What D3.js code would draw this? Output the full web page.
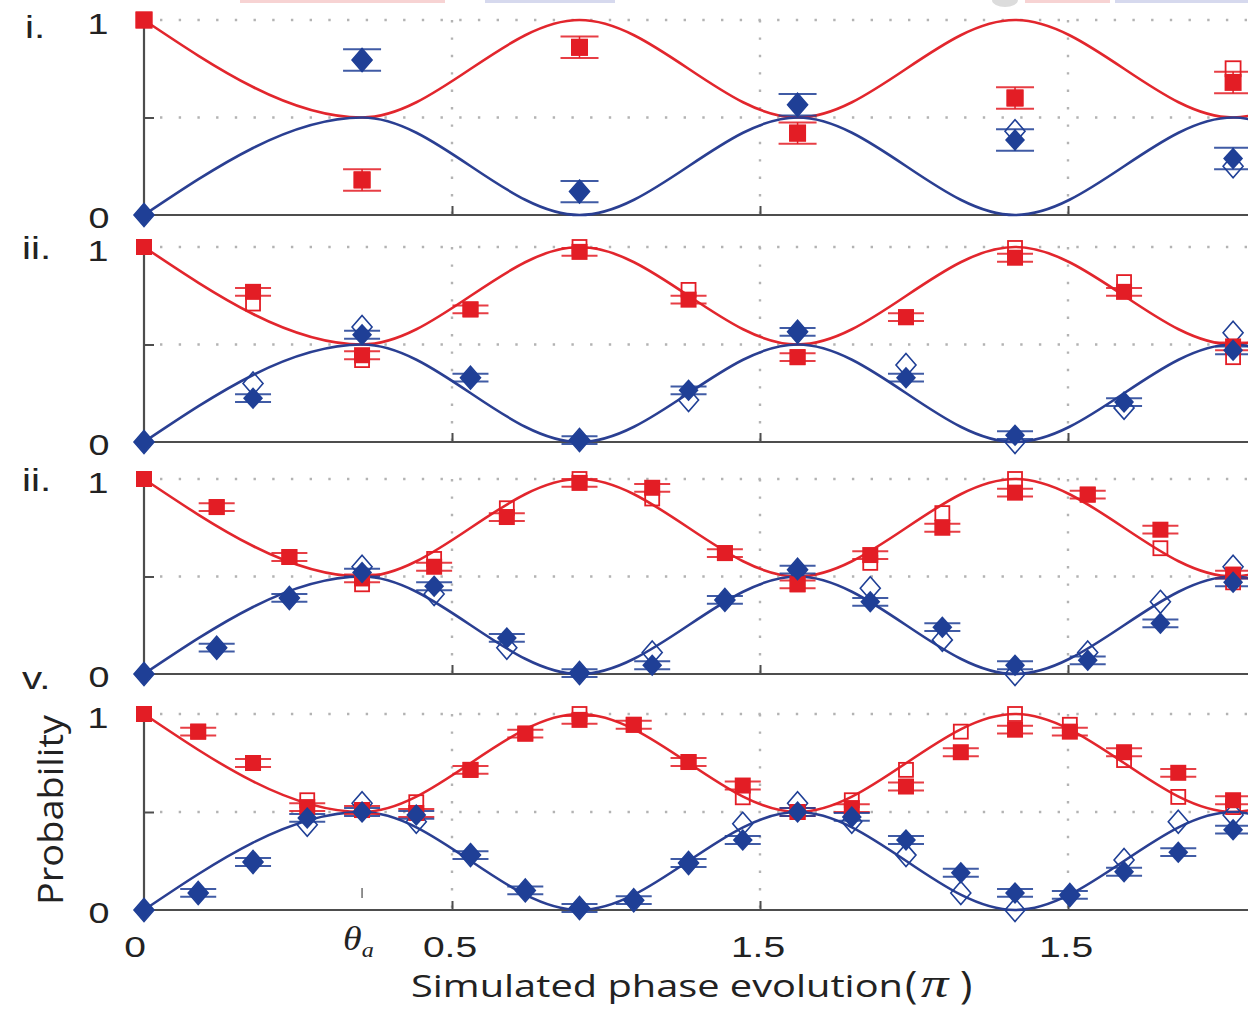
<!DOCTYPE html>
<html>
<head>
<meta charset="utf-8">
<script src="https://cdn.jsdelivr.net/npm/d3@7"></script>
<style>
  html, body { margin: 0; padding: 0; background: #fff; }
  svg { display: block; }
</style>
</head>
<body>
<svg id="chart" width="1248" height="1011"></svg>
<script>
// ---------------- DATA ----------------
const panelLabels = ["i.", "ii.", "ii.", "v."];
const xTickValues = [0.5, 1.0, 1.5];
const xTickLabels = ["0.5", "1.5", "1.5"];
const thetaA = 0.354;

// theory curves (extrema)
const theoryX    = [0, 0.354, 0.707, 1.061, 1.414, 1.768, 1.85];
const redTheory  = [1, 0.5, 1, 0.5, 1, 0.5, 0.563];
const blueTheory = [0, 0.5, 0, 0.5, 0, 0.5, 0.437];

// panel i
const x1     = [0, 0.354, 0.707, 1.061, 1.414, 1.768];
const red1F  = [1, 0.18, 0.86, 0.42, 0.60, 0.68];
const red1O  = [1, 0.18, 0.86, 0.42, 0.60, 0.75];
const blue1F = [0, 0.795, 0.12, 0.565, 0.385, 0.29];
const blue1O = [0, 0.795, 0.12, 0.565, 0.43, 0.25];

// panel ii
const x2     = [0, 0.177, 0.354, 0.530, 0.707, 0.884, 1.061, 1.237, 1.414, 1.591, 1.768];
const red2F  = [1, 0.77, 0.445, 0.68, 0.975, 0.73, 0.435, 0.64, 0.945, 0.77, 0.49];
const red2O  = [1, 0.71, 0.42, 0.68, 1.0, 0.78, 0.435, 0.64, 0.995, 0.82, 0.435];
const blue2F = [0, 0.225, 0.55, 0.33, 0.01, 0.265, 0.565, 0.33, 0.035, 0.205, 0.47];
const blue2O = [0, 0.30, 0.59, 0.33, 0.01, 0.215, 0.565, 0.395, 0.0, 0.175, 0.56];

// panel iii
const x3     = [0, 0.118, 0.236, 0.354, 0.471, 0.589, 0.707, 0.825, 0.943, 1.061, 1.179, 1.296, 1.414, 1.532, 1.650, 1.768];
const red3F  = [1, 0.856, 0.60, 0.49, 0.55, 0.805, 0.98, 0.955, 0.62, 0.46, 0.61, 0.75, 0.93, 0.92, 0.74, 0.51];
const red3O  = [1, 0.856, 0.60, 0.46, 0.59, 0.85, 1.0, 0.90, 0.62, 0.46, 0.57, 0.825, 1.0, 0.92, 0.645, 0.47];
const blue3F = [0, 0.135, 0.39, 0.52, 0.45, 0.185, 0.005, 0.045, 0.38, 0.535, 0.37, 0.24, 0.045, 0.07, 0.26, 0.47];
const blue3O = [0, 0.135, 0.39, 0.55, 0.41, 0.135, 0.005, 0.11, 0.38, 0.535, 0.44, 0.175, 0.0, 0.11, 0.37, 0.55];

// panel iv
const x4     = [0, 0.088, 0.177, 0.265, 0.354, 0.442, 0.530, 0.619, 0.707, 0.795, 0.884, 0.972, 1.061, 1.149, 1.237, 1.326, 1.414, 1.503, 1.591, 1.679, 1.768];
const red4F  = [1, 0.91, 0.75, 0.525, 0.51, 0.495, 0.715, 0.90, 0.97, 0.945, 0.755, 0.635, 0.50, 0.52, 0.63, 0.805, 0.92, 0.91, 0.805, 0.70, 0.56];
const red4O  = [1, 0.91, 0.75, 0.56, 0.51, 0.55, 0.715, 0.90, 1.0, 0.945, 0.755, 0.575, 0.50, 0.56, 0.715, 0.91, 1.0, 0.945, 0.765, 0.577, 0.525];
const blue4F = [0, 0.087, 0.245, 0.47, 0.50, 0.485, 0.28, 0.10, 0.01, 0.05, 0.24, 0.357, 0.50, 0.475, 0.357, 0.19, 0.087, 0.077, 0.195, 0.295, 0.41];
const blue4O = [0, 0.087, 0.245, 0.435, 0.545, 0.45, 0.28, 0.10, 0.01, 0.05, 0.24, 0.44, 0.545, 0.45, 0.28, 0.087, 0.0, 0.077, 0.255, 0.45, 0.485];

const errBars = [0.055, 0.02, 0.02, 0.02];

// ---------------- LAYOUT ----------------
const RED = "#e31d25", BLUE = "#1f3f96";
const RED_LINE = "#e2262d", BLUE_LINE = "#2a3f92";
const AXIS = "#4d4d4d", GRID = "#b3b3b3";
const TXT = "#222";
const SANS = "Liberation Sans, Arial, sans-serif";
const SERIF = "Liberation Serif, DejaVu Serif, serif";
const STRETCH = 1.3;
const panelsGeom = [
  {top: 20, bottom: 215},
  {top: 247, bottom: 442},
  {top: 479, bottom: 674},
  {top: 714, bottom: 910}
];
const panels = [
  {x: x1, rF: red1F, rO: red1O, bF: blue1F, bO: blue1O, sq: 17, cap: 38},
  {x: x2, rF: red2F, rO: red2O, bF: blue2F, bO: blue2O, sq: 16, cap: 36},
  {x: x3, rF: red3F, rO: red3O, bF: blue3F, bO: blue3O, sq: 16, cap: 36},
  {x: x4, rF: red4F, rO: red4O, bF: blue4F, bO: blue4O, sq: 16, cap: 36}
];

const W = 1248;
const x = d3.scaleLinear().domain([0, 1]).range([144, 760]);
const svg = d3.select("#chart");

svg.append("defs").append("clipPath").attr("id", "clip")
  .append("rect").attr("x", 0).attr("y", 0).attr("width", W).attr("height", 1011);

// stretched text helper (the reference figure is horizontally stretched)
function sText(cx, cy, str, size, anchor, family, sx) {
  return svg.append("text")
    .attr("transform", `translate(${cx},${cy}) scale(${sx || STRETCH},1)`)
    .attr("text-anchor", anchor || "middle")
    .attr("font-family", family || SANS).attr("font-size", size).attr("fill", TXT)
    .text(str);
}

// faint cut-off legend remnants at top
const topG = svg.append("g");
[[240, 205, "#f7d3d3"], [485, 130, "#d6d9ee"], [1025, 85, "#f7d3d3"], [1115, 133, "#d6d9ee"]]
  .forEach(([x0, w, c]) => topG.append("rect").attr("x", x0).attr("y", 0).attr("width", w).attr("height", 3).attr("fill", c));
topG.append("ellipse").attr("cx", 1005).attr("cy", 0).attr("rx", 13).attr("ry", 7).attr("fill", "#dcdcdc");

const line = (y) => d3.line().x(d => x(d[0])).y(d => y(d[1])).curve(d3.curveMonotoneX);

function diamondPath(cx, cy, w, h) {
  return `M${cx},${cy - h}L${cx + w},${cy}L${cx},${cy + h}L${cx - w},${cy}Z`;
}

panels.forEach((p, i) => {
  const g = panelsGeom[i];
  const y = d3.scaleLinear().domain([0, 1]).range([g.bottom, g.top]);
  const pg = svg.append("g").attr("clip-path", "url(#clip)");

  // grid (dotted)
  [1, 0.5].forEach(v => {
    pg.append("line").attr("x1", 160).attr("x2", W).attr("y1", y(v)).attr("y2", y(v))
      .attr("stroke", GRID).attr("stroke-width", 2.4).attr("stroke-dasharray", "2.4,16.3");
  });
  xTickValues.forEach(v => {
    pg.append("line").attr("x1", x(v)).attr("x2", x(v)).attr("y1", y(1)).attr("y2", y(0))
      .attr("stroke", GRID).attr("stroke-width", 2.4).attr("stroke-dasharray", "2.4,15");
  });

  // axes
  const xAxis = d3.axisBottom(x).tickValues(xTickValues).tickSize(-9).tickFormat("");
  const ax = pg.append("g").attr("transform", `translate(0,${g.bottom})`).call(xAxis);
  ax.select(".domain").remove();
  ax.selectAll(".tick line").attr("stroke", AXIS).attr("stroke-width", 2);
  pg.append("line").attr("x1", x(0)).attr("x2", W).attr("y1", g.bottom).attr("y2", g.bottom)
    .attr("stroke", AXIS).attr("stroke-width", 2.2);

  const yAxis = d3.axisLeft(y).tickValues([0.5]).tickSize(-10).tickFormat("");
  const ay = pg.append("g").attr("transform", `translate(${x(0)},0)`).call(yAxis);
  ay.select(".domain").remove();
  ay.selectAll(".tick line").attr("stroke", AXIS).attr("stroke-width", 2);
  pg.append("line").attr("x1", x(0)).attr("x2", x(0)).attr("y1", y(1)).attr("y2", g.bottom)
    .attr("stroke", AXIS).attr("stroke-width", 2.2);

  // theory curves
  pg.append("path").datum(theoryX.map((t, k) => [t, redTheory[k]]))
    .attr("d", line(y)).attr("fill", "none").attr("stroke", RED_LINE).attr("stroke-width", 2.6);
  pg.append("path").datum(theoryX.map((t, k) => [t, blueTheory[k]]))
    .attr("d", line(y)).attr("fill", "none").attr("stroke", BLUE_LINE).attr("stroke-width", 2.6);

  const err = errBars[i];
  const hc = p.cap / 2;

  // error bars (for filled markers), skip the first point
  const ebG = pg.append("g");
  [[p.rF, RED], [p.bF, BLUE]].forEach(([vals, col]) => {
    p.x.forEach((t, k) => {
      if (k === 0) return;
      const cx = x(t);
      const yt = y(vals[k] + err), yb = y(vals[k] - err);
      ebG.append("line").attr("x1", cx).attr("x2", cx).attr("y1", yt).attr("y2", yb)
        .attr("stroke", col).attr("stroke-width", 1.5);
      [yt, yb].forEach(yy => ebG.append("line").attr("x1", cx - hc).attr("x2", cx + hc)
        .attr("y1", yy).attr("y2", yy).attr("stroke", col).attr("stroke-width", 2).attr("opacity", 0.85));
    });
  });

  const s = p.sq, hs = s / 2;
  // open markers
  pg.selectAll(null).data(p.x.map((t, k) => [t, p.rO[k]])).enter().append("rect")
    .attr("x", d => x(d[0]) - hs + 1).attr("y", d => y(d[1]) - hs + 1)
    .attr("width", s - 2).attr("height", s - 2)
    .attr("fill", "none").attr("stroke", RED).attr("stroke-width", 1.8);
  pg.selectAll(null).data(p.x.map((t, k) => [t, p.bO[k]])).enter().append("path")
    .attr("d", d => diamondPath(x(d[0]), y(d[1]), 10, 11.5))
    .attr("fill", "none").attr("stroke", BLUE).attr("stroke-width", 1.6);

  // filled markers
  pg.selectAll(null).data(p.x.map((t, k) => [t, p.rF[k]])).enter().append("rect")
    .attr("x", d => x(d[0]) - hs).attr("y", d => y(d[1]) - hs)
    .attr("width", s).attr("height", s).attr("fill", RED);
  pg.selectAll(null).data(p.x.map((t, k) => [t, p.bF[k]])).enter().append("path")
    .attr("d", d => diamondPath(x(d[0]), y(d[1]), 10, 11))
    .attr("fill", BLUE);

  // y labels
  sText(98, y(1) + 14, "1", 29);
  sText(99, y(0) + 13, "0", 29);
});

// panel labels
const labelPos = [[25, 38], [22, 259], [22, 491], [22, 689]];
panelLabels.forEach((t, i) => sText(labelPos[i][0], labelPos[i][1], t, 31, "start"));

// floating tick at theta_a in the last panel
const gL = panelsGeom[3];
svg.append("line").attr("x1", x(thetaA)).attr("x2", x(thetaA)).attr("y1", gL.bottom - 22).attr("y2", gL.bottom - 12)
  .attr("stroke", "#777").attr("stroke-width", 1.6);

// x tick labels
const xlabY = 957;
sText(135, xlabY, "0", 30);
xTickValues.forEach((v, i) => sText(x(v) - 2, xlabY, xTickLabels[i], 30));
const th = svg.append("text").attr("transform", `translate(343,950) scale(1.15,1)`)
  .attr("font-family", SERIF).attr("font-style", "italic")
  .attr("font-size", 33).attr("fill", TXT);
th.append("tspan").text("θ");
th.append("tspan").attr("font-size", 21).attr("dy", 7).text("a");

// axis titles
svg.append("text").attr("x", 411).attr("y", 997)
  .attr("font-family", "Open Sans, Noto Sans, sans-serif").attr("font-size", 31).attr("fill", TXT)
  .attr("textLength", 492).attr("lengthAdjust", "spacingAndGlyphs")
  .text("Simulated phase evolution");
sText(905, 999, "(", 38, "start", "Open Sans, Noto Sans, sans-serif", 1.1);
svg.append("text").attr("transform", "translate(921,997) scale(1.3,1)")
  .attr("font-family", SERIF).attr("font-style", "italic").attr("font-size", 42).attr("fill", TXT).text("π");
sText(960, 999, ")", 38, "start", "Open Sans, Noto Sans, sans-serif", 1.1);

svg.append("text").attr("transform", "translate(63,810) rotate(-90)").attr("text-anchor", "middle")
  .attr("font-family", "Open Sans, Noto Sans, sans-serif").attr("font-size", 34).attr("fill", TXT)
  .attr("textLength", 190).attr("lengthAdjust", "spacingAndGlyphs")
  .text("Probability");
</script>
</body>
</html>
